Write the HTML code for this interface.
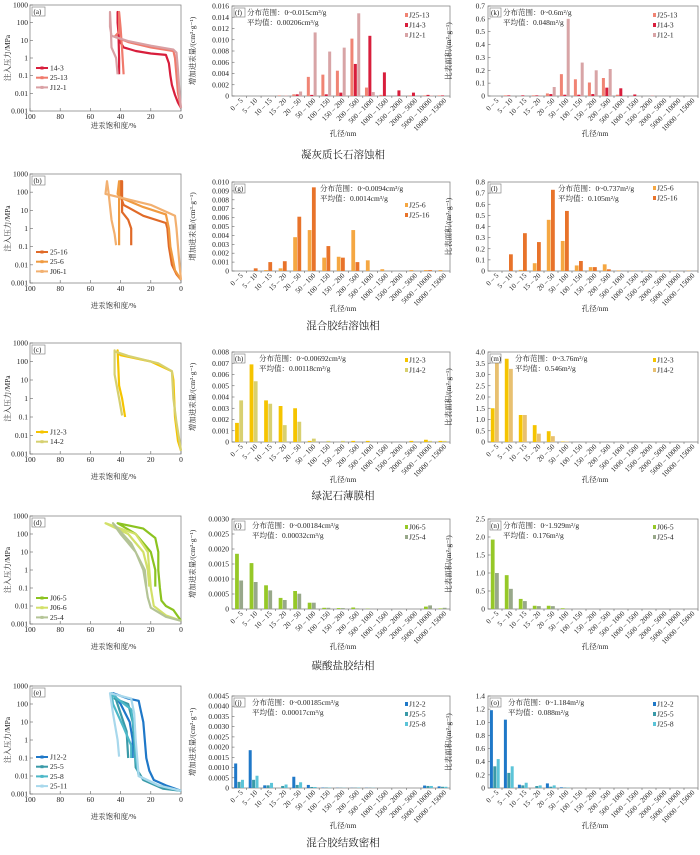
<!DOCTYPE html>
<html><head><meta charset="utf-8">
<style>
body{margin:0;background:#fff;width:700px;height:855px;overflow:hidden}
svg{display:block}
text{font-family:"Liberation Serif","Noto Serif CJK SC","Noto Sans CJK SC",serif;fill:#222}
</style></head>
<body>
<svg id="fig" width="700" height="855" viewBox="0 0 700 855" xmlns="http://www.w3.org/2000/svg"></svg>
<script>
// ---------- data ----------
const categories=["0 – 5","5 – 10","10 – 15","15 – 20","20 – 50","50 – 100","100 – 150","150 – 200","200 – 500","500 – 1000","1000 – 1500","1500 – 2000","2000 – 5000","5000 – 10000","10000 – 15000"];
// row a
const fNames=["J25-13","J14-3","J12-1"];
const f_J25_13=[0,0,0,0.0001,0.0003,0.0034,0.0038,0.0045,0.0102,0.0015,0.0002,0,0.0001,0.0001,0.0001];
const f_J14_3=[0,0,0,0,0.0003,0.0002,0.0003,0.0006,0.0057,0.0107,0.0042,0.001,0.0006,0.0002,0.0001];
const f_J12_1=[0,0,0,0.0001,0.0008,0.0113,0.0079,0.0086,0.0147,0.0007,0,0,0,0.0001,0];
const k_J25_13=[0,0.005,0,0.005,0.02,0.17,0.13,0.105,0.14,0.01,0,0,0,0,0];
const k_J14_3=[0,0.005,0.005,0.005,0.015,0.01,0.01,0.015,0.065,0.06,0.012,0,0,0,0];
const k_J12_1=[0,0,0,0.005,0.07,0.6,0.26,0.2,0.21,0,0,0.005,0,0,0];
// row b
const gNames=["J25-6","J25-16"];
const g_J25_6=[0,0,0.0001,0.0003,0.0038,0.0046,0.0015,0.0016,0.0046,0.0012,0.0002,0,0.0001,0.0001,0.0001];
const g_J25_16=[0,0.0003,0.001,0.0011,0.0061,0.0094,0.0028,0.0015,0.001,0,0,0,0,0.0001,0];
const l_J25_6=[0,0,0.01,0.07,0.46,0.27,0.05,0.035,0.06,0.005,0.003,0.003,0.003,0.003,0.003];
const l_J25_16=[0,0.15,0.34,0.26,0.73,0.54,0.09,0.035,0.015,0,0,0,0,0,0];
// row c
const hNames=["J12-3","J14-2"];
const h_J12_3=[0.0017,0.0069,0.0037,0.0032,0.003,0.0001,0,0,0.0001,0.0001,0,0,0.0001,0.0002,0.0001];
const h_J14_2=[0.0037,0.0054,0.0034,0.0015,0.0018,0.0003,0.0001,0.0001,0,0,0,0,0,0.0001,0.0001];
const m_J12_3=[1.5,3.7,1.2,0.75,0.48,0.02,0,0,0,0,0,0,0,0,0];
const m_J14_2=[3.76,3.25,1.2,0.37,0.26,0.02,0,0,0,0,0,0,0,0,0];
// row d
const iNames=["J06-5","J25-4"];
const i_J06_5=[0.00184,0.00153,0.00079,0.00037,0.0006,0.00021,0.00004,0.00003,0.00005,0.00001,0,0,0,0.00008,0.00002];
const i_J25_4=[0.00095,0.0009,0.00062,0.0003,0.00051,0.00021,0.00004,0.00003,0.00002,0,0,0,0,0.00012,0.00004];
const n_J06_5=[1.929,0.94,0.28,0.09,0.09,0.02,0,0,0,0,0,0,0,0,0];
const n_J25_4=[1.0,0.56,0.22,0.08,0.08,0.01,0,0,0,0,0,0,0,0,0];
// row e
const jNames=["J12-2","J25-5","J25-8"];
const j_J12_2=[0.0012,0.00185,0.00013,0,0.00055,0.00015,0.00002,0.00001,0.00001,0.00001,0,0,0,0.00012,0.00008];
const j_J25_5=[0.0003,0.0004,0.00013,0.0001,0.00015,0.00005,0.00002,0.00001,0.00001,0.00001,0,0,0,0.0001,0.00006];
const j_J25_8=[0.0004,0.0006,0.00025,0.00017,0.00028,0.00005,0.00002,0.00001,0.00002,0.00001,0,0,0,0.0001,0.00006];
const o_J12_2=[1.184,1.04,0.05,0,0.07,0.01,0,0,0,0,0,0,0,0,0];
const o_J25_5=[0.33,0.23,0.04,0.03,0.02,0.005,0,0,0,0,0,0,0,0,0];
const o_J25_8=[0.44,0.33,0.08,0.04,0.04,0.005,0,0,0,0,0,0,0,0,0];
// capillary curves [saturation %, pressure MPa]
const a_14_3=[[0,0.0015],[2,0.003],[4,0.008],[6,0.03],[7,0.1],[8,0.5],[10,1.5],[20,1.8],[30,2.5],[38,4],[41,10],[42,100],[42,400],[41.5,50],[41,1],[41,0.12]];
const a_25_13=[[0,0.0015],[2,0.01],[3,0.1],[4,1],[5,2.5],[20,4],[35,8],[44,16],[41,30],[41,400],[40,50],[39,3],[38,0.12]];
const a_J12_1=[[0,0.0015],[1,0.01],[2,0.2],[3,2],[5,3],[20,5],[35,9],[46,18],[47,60],[47,400],[46.5,50],[46,4],[43,1],[42,0.12]];
const b_25_16=[[0,0.0015],[3,0.003],[6,0.01],[8,0.1],[9,1],[10,2],[25,5],[38,20],[40,60],[40,400],[39,400],[39,8],[35,3],[33,1],[33,0.12]];
const b_25_6=[[0,0.0015],[4,0.005],[7,0.1],[8,1],[10,6],[25,15],[40,50],[42,80],[41,400],[41,0.12]];
const b_J06_1=[[0,0.0015],[1,0.01],[2,0.1],[3,1],[4,5],[20,20],[40,50],[50,80],[49,400],[48,100],[46,3],[44,0.5],[43,0.12]];
const c_J12_3=[[0,0.0015],[2,0.005],[4,0.1],[5,10],[6,30],[20,100],[40,220],[42,300],[42,400],[41,5],[39,1],[37,0.1]];
const c_14_2=[[0,0.0015],[1,0.005],[3,0.05],[5,1],[6,30],[15,80],[35,200],[44,350],[44,400],[44,20],[41,1],[39,0.12]];
const d_J06_5=[[0,0.0015],[5,0.006],[10,0.01],[13,0.02],[14,0.1],[15,1],[15,10],[17,60],[25,200],[42,400],[30,100],[20,10],[17,1],[17,0.12]];
const d_J06_6=[[0,0.0015],[10,0.003],[18,0.01],[20,0.1],[21,1],[22,10],[30,100],[50,400],[35,100],[25,10],[22,1],[21,0.12]];
const d_25_4=[[0,0.0015],[10,0.0025],[20,0.008],[22,0.03],[23,0.1],[25,1],[30,10],[40,100],[45,400],[33,30],[24,1],[23,0.12]];
const e_J12_2=[[0,0.0015],[10,0.003],[18,0.006],[21,0.02],[23,0.1],[24,1],[25,10],[27,60],[28,150],[35,200],[45,400],[40,100],[34,10],[32,1],[32,0.1]];
const e_25_5=[[0,0.0015],[12,0.002],[25,0.006],[30,0.03],[31,1],[32,10],[35,100],[44,200],[44,300],[40,30],[36,3],[35,0.1]];
const e_25_8=[[0,0.0015],[15,0.003],[28,0.01],[30,0.1],[31,3],[33,50],[45,300],[46,400],[45,100],[38,5],[33,0.5],[33,0.1]];
const e_25_11=[[0,0.0015],[15,0.003],[28,0.01],[29,0.1],[30,1],[31,30],[33,200],[47,400],[45,30],[42,1],[41,0.12]];
const pressTicks=["0.001","0.01","0.1","1","10","100","1000"];
const satTicks=[100,80,60,40,20,0];

// ---------- helpers ----------
const NS="http://www.w3.org/2000/svg",svg=document.getElementById('fig');
function el(tag,attrs,parent,txt){const e=document.createElementNS(NS,tag);for(const k in attrs)e.setAttribute(k,attrs[k]);if(txt!==undefined)e.textContent=txt;(parent||svg).appendChild(e);return e;}
function grp(name){const g=el('g',{});return g;}

function capPanel(label,top,bot,series,names,colors,legY,titleOff){
  const g=grp('pressure-panel-'+label);
  const L=30,R=181;
  const sx=s=>R-(s/100)*(R-L);
  const sy=p=>bot-(Math.log10(p)+3)/6*(bot-top);
  const fr=el('rect',{x:L,y:top,width:R-L,height:bot-top,fill:'none',stroke:'#888','stroke-width':0.8},g);
  
  pressTicks.forEach((t,i)=>{const y=sy(parseFloat(t));
    el('line',{x1:L,x2:L+3,y1:y,y2:y,stroke:'#666','stroke-width':0.6},g);
    const tx=el('text',{x:L-2,y:y+2.5,'font-size':7.5,'text-anchor':'end'},g,t);
    });
  satTicks.forEach(s=>{const x=sx(s);
    el('line',{x1:x,x2:x,y1:bot,y2:bot-3,stroke:'#666','stroke-width':0.6},g);
    const tx=el('text',{x:x,y:bot+8,'font-size':7.5,'text-anchor':'middle'},g,String(s));
    });
  const yt=el('text',{x:0,y:0,'font-size':7.5,'text-anchor':'middle',transform:`translate(10,${(top+bot)/2}) rotate(-90)`},g,'注入压力/MPa');
  
  const xt=el('text',{x:(L+R)/2+8,y:bot+titleOff,'font-size':7.5,'text-anchor':'middle'},g,'进汞饱和度/%');
  
  el('rect',{x:L+2,y:top+2,width:13,height:9,fill:'#fff',stroke:'#777','stroke-width':0.6},g);
  const pl=el('text',{x:L+3.5,y:top+9,'font-size':7},g,'('+label+')');
  
  series.forEach((pts,k)=>{
    const d=pts.map((p,i)=>(i?'L':'M')+sx(p[0]).toFixed(1)+','+sy(p[1]).toFixed(1)).join('');
    const pa=el('path',{d:d,fill:'none',stroke:colors[k],'stroke-width':2.2,'stroke-linejoin':'round'},g);
    
    const ly=legY+k*9.7;
    const ll=el('line',{x1:36,x2:48,y1:ly,y2:ly,stroke:colors[k],'stroke-width':2},g);
    
    el('rect',{x:40.5,y:ly-1.5,width:3,height:3,fill:colors[k]},g);
    const lt=el('text',{x:50,y:ly+2.5,'font-size':7.5},g,names[k]);
    
  });
}

function barPanel(label,L,R,top,bot,ymax,step,dec,series,names,colors,ytitle,info,infoX,legY){
  const g=grp('bar-panel-'+label);
  const sy=v=>bot-v/ymax*(bot-top);
  const cw=(R-L)/categories.length;
  const fr=el('rect',{x:L,y:top,width:R-L,height:bot-top,fill:'none',stroke:'#888','stroke-width':0.8},g);
  
  const n=Math.round(ymax/step);
  for(let i=0;i<=n;i++){const v=i*step,y=sy(v);
    el('line',{x1:L,x2:L+2.5,y1:y,y2:y,stroke:'#666','stroke-width':0.6},g);
    const tx=el('text',{x:L-3,y:y+2.5,'font-size':7.5,'text-anchor':'end'},g,i===0?'0':v.toFixed(dec));
    }
  const bw=series.length===3?3.4:4.2;
  categories.forEach((c,ci)=>{
    const cx=L+cw*(ci+0.5);
    el('line',{x1:L+cw*(ci+1),x2:L+cw*(ci+1),y1:bot,y2:bot+2,stroke:'#666','stroke-width':0.6},g);
    const tx=el('text',{x:0,y:0,'font-size':7.2,'text-anchor':'end',transform:`translate(${cx+4},${bot+5}) rotate(-45)`},g,c);
    
    series.forEach((s,k)=>{const v=s[ci];
      const x=cx-series.length*bw/2+k*bw;
      const b=el('rect',{x:x.toFixed(2),y:sy(v).toFixed(2),width:bw-0.4,height:(bot-sy(v)).toFixed(2),fill:colors[k]},g);
      });
  });
  const yt=el('text',{x:0,y:0,'font-size':7.5,'text-anchor':'middle',transform:`translate(${L-37},${(top+bot)/2}) rotate(-90)`},g,ytitle);
  
  const xt=el('text',{x:(L+R)/2+2,y:bot+40,'font-size':7.5,'text-anchor':'middle'},g,'孔径/nm');
  
  el('rect',{x:L+2,y:top+2,width:11,height:9,fill:'#fff',stroke:'#777','stroke-width':0.6},g);
  const pl=el('text',{x:L+3,y:top+9,'font-size':7},g,'('+label+')');
  
  const i1=el('text',{x:infoX,y:top+9,'font-size':7.5},g,'分布范围：'+info[0]);
  
  const i2=el('text',{x:infoX,y:top+19,'font-size':7.5},g,'平均值：'+info[1]);
  
  names.forEach((nm,k)=>{const ly=top+legY+k*10;
    const sq=el('rect',{x:R-45,y:ly-3,width:3,height:4,fill:colors[k]},g);
    
    const lt=el('text',{x:R-41,y:ly+1.5,'font-size':7.5},g,nm);
    });
}
function rowTitle(t,y){const tx=el('text',{x:343,y:y,'font-size':10.5,'text-anchor':'middle',style:'font-family:"Noto Serif CJK SC","Noto Sans CJK SC",serif'},svg,t);
  }

const VT='增加进汞量/(cm³·g⁻¹)',ST='比表面积/(m²·g⁻¹)';
const rows=[{lt:5,lb:111,t:6,b:96,ty:158,to:17},{lt:174,lb:283,t:182,b:271,ty:329,to:25},{lt:343,lb:454,t:352,b:442,ty:499,to:25},{lt:516,lb:624,t:519,b:609,ty:669,to:25},{lt:686,lb:794,t:696,b:788,ty:846,to:25}];
const ML=232,MR=450,RL=488,RR=698;

// row a
capPanel('a',rows[0].lt,rows[0].lb,[a_14_3,a_25_13,a_J12_1],['14-3','25-13','J12-1'],['#d81e3c','#f07a6c','#d9a0a4'],68,rows[0].to);
barPanel('f',ML,MR,rows[0].t,rows[0].b,0.016,0.002,3,[f_J25_13,f_J14_3,f_J12_1],fNames,['#f08474','#d81e3c','#d8a4a6'],VT,['0~0.015cm³/g','0.00206cm³/g'],ML+15,10);
barPanel('k',RL,RR,rows[0].t,rows[0].b,0.7,0.1,1,[k_J25_13,k_J14_3,k_J12_1],fNames,['#f08474','#d81e3c','#d8a4a6'],ST,['0~0.6m²/g','0.048m²/g'],RL+15,10);
rowTitle('凝灰质长石溶蚀相',rows[0].ty);
// row b
capPanel('b',rows[1].lt,rows[1].lb,[b_25_16,b_25_6,b_J06_1],['25-16','25-6','J06-1'],['#e06a28','#f09a40','#f2b070'],252,rows[1].to);
barPanel('g',ML,MR,rows[1].t,rows[1].b,0.010,0.001,3,[g_J25_6,g_J25_16],gNames,['#f5a742','#e8732a'],VT,['0~0.0094cm³/g','0.0014cm³/g'],ML+88,24);
barPanel('l',RL,RR,rows[1].t,rows[1].b,0.8,0.1,1,[l_J25_6,l_J25_16],['J25-6','J25-16'],['#f5a742','#e8732a'],ST,['0~0.737m²/g','0.105m²/g'],RL+70,7);
rowTitle('混合胶结溶蚀相',rows[1].ty);
// row c
capPanel('c',rows[2].lt,rows[2].lb,[c_J12_3,c_14_2],['J12-3','14-2'],['#f5c400','#d6d070'],432,rows[2].to);
barPanel('h',ML,MR,rows[2].t,rows[2].b,0.008,0.001,3,[h_J12_3,h_J14_2],hNames,['#f5c400','#d8d070'],VT,['0~0.00692cm³/g','0.00118cm³/g'],ML+27,9);
barPanel('m',RL,RR,rows[2].t,rows[2].b,4.0,0.5,1,[m_J12_3,m_J14_2],hNames,['#f5c400','#e8c070'],ST,['0~3.76m²/g','0.546m²/g'],RL+27,9);
rowTitle('绿泥石薄膜相',rows[2].ty);
// row d
capPanel('d',rows[3].lt,rows[3].lb,[d_J06_5,d_J06_6,d_25_4],['J06-5','J06-6','25-4'],['#8cc320','#d2e068','#b4c496'],598,rows[3].to);
barPanel('i',ML,MR,rows[3].t,rows[3].b,0.0030,0.0005,4,[i_J06_5,i_J25_4],iNames,['#96c828','#98a88a'],VT,['0~0.00184cm³/g','0.00032cm³/g'],ML+20,9);
barPanel('n',RL,RR,rows[3].t,rows[3].b,2.5,0.5,1,[n_J06_5,n_J25_4],iNames,['#96c828','#98a88a'],ST,['0~1.929m²/g','0.176m²/g'],RL+15,9);
rowTitle('碳酸盐胶结相',rows[3].ty);
// row e
capPanel('e',rows[4].lt,rows[4].lb,[e_J12_2,e_25_5,e_25_8,e_25_11],['J12-2','25-5','25-8','25-11'],['#1f78c8','#3a9aa8','#4cb8c8','#a8d8ec'],757,rows[4].to);
barPanel('j',ML,MR,rows[4].t,rows[4].b,0.0045,0.0005,4,[j_J12_2,j_J25_5,j_J25_8],jNames,['#1f78c8','#3a9aa8','#5cc4d8'],VT,['0~0.00185cm³/g','0.00017cm³/g'],ML+20,9);
barPanel('o',RL,RR,rows[4].t,rows[4].b,1.4,0.2,1,[o_J12_2,o_J25_5,o_J25_8],jNames,['#1f78c8','#3a9aa8','#5cc4d8'],ST,['0~1.184m²/g','0.088m²/g'],RL+20,9);
rowTitle('混合胶结致密相',rows[4].ty);
</script>
</body></html>
